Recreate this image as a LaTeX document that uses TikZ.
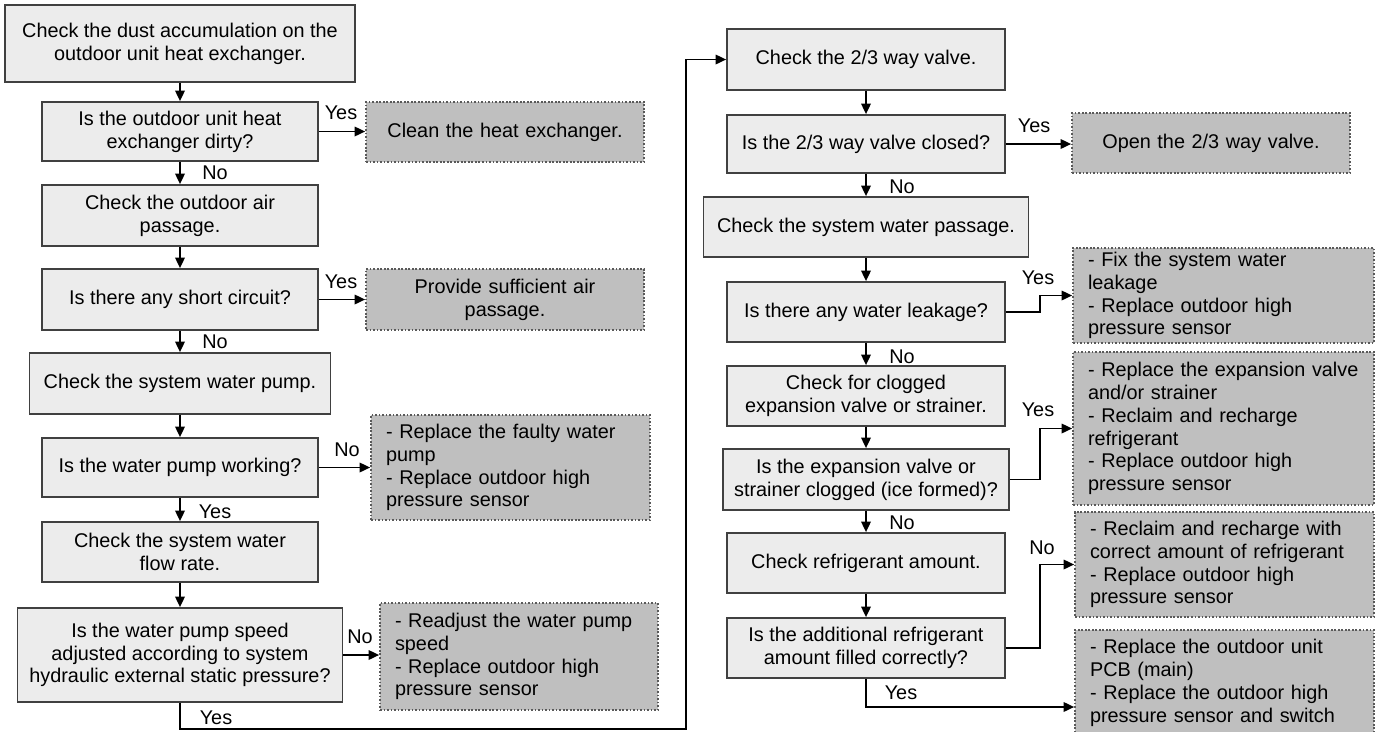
\documentclass[tikz,border=0pt]{standalone}
\usepackage{fontspec}
\setmainfont{Liberation Sans}
\usetikzlibrary{arrows.meta}

\begin{document}
\begin{tikzpicture}[x=0.02cm,y=-0.02cm,>={Triangle[length=0.21cm,width=0.19cm]},
  font=\fontsize{11.3}{13}\selectfont,
  box/.style={draw=black!75,line width=1pt,fill=gray!15,align=center,inner sep=2pt},
  act/.style={draw=black!65,line width=1pt,dash pattern=on 1pt off 1pt,fill=gray!50,
    align=left,inner xsep=0.3cm,inner ysep=2pt},
  lab/.style={inner sep=0pt}]
  \useasboundingbox (0,0) rectangle (1377,731);
  % left column
  \node[box,minimum width=7cm,minimum height=1.54cm] (A) at (180,43.5)
    {Check the dust accumulation on the\\outdoor unit heat exchanger.};
  \node[box,minimum width=5.53cm,minimum height=1.18cm] (B) at (180,131.5)
    {Is the outdoor unit heat\\exchanger dirty?};
  \node[act,text width=4.96cm,align=center,minimum height=1.2cm] (C) at (505,132)
    {Clean the heat exchanger.};
  \node[box,minimum width=5.53cm,minimum height=1.22cm] (D) at (180,215.5)
    {Check the outdoor air\\passage.};
  \node[box,minimum width=5.53cm,minimum height=1.22cm] (E) at (180,299.5)
    {Is there any short circuit?};
  \node[act,text width=4.96cm,align=center,minimum height=1.22cm] (F) at (505,299.5)
    {Provide sufficient air\\passage.};
  \node[box,minimum width=6.02cm,minimum height=1.22cm] (G) at (180,383.5)
    {Check the system water pump.};
  \node[box,minimum width=5.53cm,minimum height=1.18cm] (H) at (180,467.5)
    {Is the water pump working?};
  \node[act,text width=4.98cm,minimum height=2.1cm] (I) at (510.5,467.5)
    {- Replace the faulty water\\pump\\- Replace outdoor high\\pressure sensor};
  \node[box,minimum width=5.53cm,minimum height=1.2cm] (J) at (180,552)
    {Check the system water\\flow rate.};
  \node[box,minimum width=6.5cm,minimum height=1.88cm] (K) at (180,655)
    {Is the water pump speed\\adjusted according to system\\hydraulic external static pressure?};
  \node[act,text width=4.96cm,minimum height=2.14cm] (L) at (519,656.5)
    {- Readjust the water pump\\speed\\- Replace outdoor high\\pressure sensor};
  % right column
  \node[box,minimum width=5.56cm,minimum height=1.22cm] (M) at (866,59.5)
    {Check the 2/3 way valve.};
  \node[box,minimum width=5.56cm,minimum height=1.16cm] (N) at (866,144)
    {Is the 2/3 way valve closed?};
  \node[act,text width=4.96cm,align=center,minimum height=1.2cm] (O) at (1211,143)
    {Open the 2/3 way valve.};
  \node[box,minimum width=6.5cm,minimum height=1.2cm] (P) at (866,227)
    {Check the system water passage.};
  \node[box,minimum width=5.56cm,minimum height=1.2cm] (R) at (866,312)
    {Is there any water leakage?};
  \node[act,text width=5.42cm,minimum height=1.9cm] (Q) at (1223.5,295.5)
    {- Fix the system water\\leakage\\- Replace outdoor high\\pressure sensor};
  \node[box,minimum width=5.56cm,minimum height=1.2cm] (S) at (866,396)
    {Check for clogged\\expansion valve or strainer.};
  \node[box,minimum width=5.72cm,minimum height=1.22cm] (T) at (866,479.5)
    {Is the expansion valve or\\strainer clogged (ice formed)?};
  \node[act,text width=5.42cm,minimum height=3.06cm] (U) at (1223.5,428.5)
    {- Replace the expansion valve\\and/or strainer\\- Reclaim and recharge\\refrigerant\\- Replace outdoor high\\pressure sensor};
  \node[box,minimum width=5.56cm,minimum height=1.2cm] (V) at (866,563)
    {Check refrigerant amount.};
  \node[act,text width=5.38cm,minimum height=2.1cm] (W) at (1224.5,564.5)
    {- Reclaim and recharge with\\correct amount of refrigerant\\- Replace outdoor high\\pressure sensor};
  \node[box,minimum width=5.56cm,minimum height=1.2cm] (X) at (866,648)
    {Is the additional refrigerant\\amount filled correctly?};
  \node[act,text width=5.38cm,minimum height=2.12cm] (Y) at (1224.5,683)
    {- Replace the outdoor unit\\PCB (main)\\- Replace the outdoor high\\pressure sensor and switch};
  % connectors
  \draw[->,line width=1pt] (A) -- (B);
  \draw[->,line width=1pt] (B) -- (B -| C.west);
  \draw[->,line width=1pt] (B) -- (D);
  \draw[->,line width=1pt] (D) -- (E);
  \draw[->,line width=1pt] (E) -- (E -| F.west);
  \draw[->,line width=1pt] (E) -- (G);
  \draw[->,line width=1pt] (G) -- (H);
  \draw[->,line width=1pt] (H) -- (H -| I.west);
  \draw[->,line width=1pt] (H) -- (J);
  \draw[->,line width=1pt] (J) -- (K);
  \draw[->,line width=1pt] (K) -- (K -| L.west);
  \coordinate (loop) at (686,729);
  \draw[->,line width=1pt] (K.south) |- (loop) |- (M.west);
  \draw[->,line width=1pt] (M) -- (N);
  \draw[->,line width=1pt] (N) -- (N -| O.west);
  \draw[->,line width=1pt] (N) -- (P);
  \draw[->,line width=1pt] (P) -- (R);
  \draw[->,line width=1pt] (R.east) -- ++(34,0) |- (Q.west);
  \draw[->,line width=1pt] (R) -- (S);
  \draw[->,line width=1pt] (S) -- (T);
  \draw[->,line width=1pt] (T.east) -- ++(30,0) |- (U.west);
  \draw[->,line width=1pt] (T) -- (V);
  \draw[->,line width=1pt] (V) -- (X);
  \draw[->,line width=1pt] (X.east) -- ++(34,0) |- (W.west);
  \draw[->,line width=1pt] (X.south) |- ([yshift=-0.48cm]Y.west);
  % labels
  \node[lab] (yes1) at (341,113) {Yes};
  \node[lab] (no1) at (215,173) {No};
  \node[lab] (yes2) at (341,282) {Yes};
  \node[lab] (no2) at (215,342) {No};
  \node[lab] (no3) at (347,450) {No};
  \node[lab] (yes3) at (215,512) {Yes};
  \node[lab] (no4) at (360,637) {No};
  \node[lab] (yes4) at (216,718) {Yes};
  \node[lab] (yes5) at (1034,126) {Yes};
  \node[lab] (no5) at (902,187) {No};
  \node[lab] (yes6) at (1038,278) {Yes};
  \node[lab] (no6) at (902,357) {No};
  \node[lab] (yes7) at (1038,410) {Yes};
  \node[lab] (no7) at (902,523) {No};
  \node[lab] (no8) at (1042,548) {No};
  \node[lab] (yes8) at (901,693) {Yes};
\end{tikzpicture}
\end{document}
